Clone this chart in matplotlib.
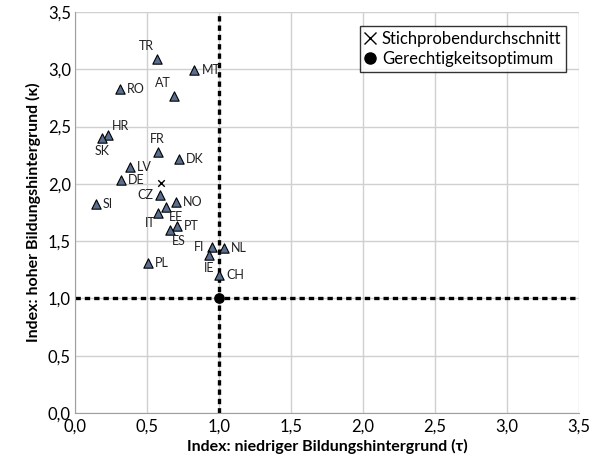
import matplotlib
matplotlib.use("Agg")
import matplotlib.pyplot as plt
from matplotlib.lines import Line2D

plt.rcParams['font.family'] = ['Lato', 'DejaVu Sans']

countries = ["TR", "MT", "RO", "AT", "HR", "SK", "FR", "DK", "LV", "DE", "CZ", "NO", "SI",
             "EE", "IT", "PT", "ES", "FI", "NL", "IE", "CH", "PL"]
tau = [0.57, 0.83, 0.31, 0.685, 0.227, 0.19, 0.574, 0.72, 0.382, 0.317, 0.59, 0.70, 0.144,
       0.632, 0.578, 0.71, 0.657, 0.949, 1.037, 0.93, 1.002, 0.505]
kappa = [3.09, 2.99, 2.83, 2.77, 2.43, 2.40, 2.28, 2.22, 2.15, 2.03, 1.90, 1.84, 1.82,
         1.80, 1.745, 1.635, 1.594, 1.446, 1.437, 1.38, 1.206, 1.31]
label_pos = ["ul", "r", "r", "ul", "ur", "b", "u", "r", "r", "r", "l", "r", "r",
             "br", "bl", "r", "br", "l", "r", "b", "r", "r"]
mean_point = (0.60, 2.006)
optimum_point = (1.0, 1.0)
xticks = [0.0, 0.5, 1.0, 1.5, 2.0, 2.5, 3.0, 3.5]
yticks = [0.0, 0.5, 1.0, 1.5, 2.0, 2.5, 3.0, 3.5]

fig = plt.figure(figsize=(5.95, 4.61), dpi=100)
ax = fig.add_axes([0.126, 0.104, 0.847, 0.870])

ax.axvline(1.0, color='black', lw=2.4, ls=(0, (1.6, 1.2)), zorder=2)
ax.axhline(1.0, color='black', lw=2.4, ls=(0, (1.6, 1.2)), zorder=2)

ax.scatter(tau, kappa, marker='^', s=45, facecolor='#5a6f8f', edgecolor='black', linewidth=0.8, zorder=4)
ax.scatter([mean_point[0]], [mean_point[1]], marker='x', s=22, color='black', linewidth=1.0, zorder=4)
ax.scatter([optimum_point[0]], [optimum_point[1]], marker='o', s=45, color='black', zorder=5)

offsets = {"r": (5, 0, 'left', 'center'), "l": (-5, 0, 'right', 'center'),
           "u": (0, 5, 'center', 'bottom'), "b": (0, -5, 'center', 'top'),
           "ul": (-2, 5, 'right', 'bottom'), "ur": (3, 2, 'left', 'bottom'),
           "br": (2, -3, 'left', 'top'), "bl": (-2, -3, 'right', 'top')}
for c, x, y, p in zip(countries, tau, kappa, label_pos):
    dx, dy, ha, va = offsets[p]
    ax.annotate(c, (x, y), xytext=(dx, dy), textcoords='offset points', ha=ha, va=va,
                fontsize=9, color='#222222', zorder=6)

ax.set_xlim(0, 3.5)
ax.set_ylim(0, 3.5)
ax.set_xticks(xticks)
ax.set_yticks(yticks)
fmt = lambda v: f"{v:.1f}".replace('.', ',')
ax.set_xticklabels([fmt(v) for v in xticks], fontsize=12)
ax.set_yticklabels([fmt(v) for v in yticks], fontsize=12)
ax.tick_params(axis='x', length=0, pad=4)
ax.tick_params(axis='y', length=0, pad=3)
ax.grid(True, color='#d0d0d0', lw=1.0, zorder=0)
ax.set_axisbelow(True)
for s in ['top', 'right']:
    ax.spines[s].set_visible(False)
for s in ['left', 'bottom']:
    ax.spines[s].set_color('#a0a0a0')

ax.set_xlabel("Index: niedriger Bildungshintergrund (τ)", fontsize=11.5, fontweight='bold', labelpad=3)
ax.set_ylabel("Index: hoher Bildungshintergrund (κ)", fontsize=11.5, fontweight='bold', labelpad=5)

handles = [Line2D([], [], marker='x', ls='none', color='black', markersize=8, mew=1.0),
           Line2D([], [], marker='o', ls='none', color='black', markersize=8)]
leg = ax.legend(handles, ["Stichprobendurchschnitt", "Gerechtigkeitsoptimum"], loc='upper right',
                bbox_to_anchor=(0.975, 0.966), fontsize=12, frameon=True, fancybox=False,
                edgecolor='black', handlelength=0.6, handletextpad=0.4, borderpad=0.3, labelspacing=0.25,
                borderaxespad=0)
leg.get_frame().set_linewidth(1.0)

fig.savefig("out.png", dpi=100)
